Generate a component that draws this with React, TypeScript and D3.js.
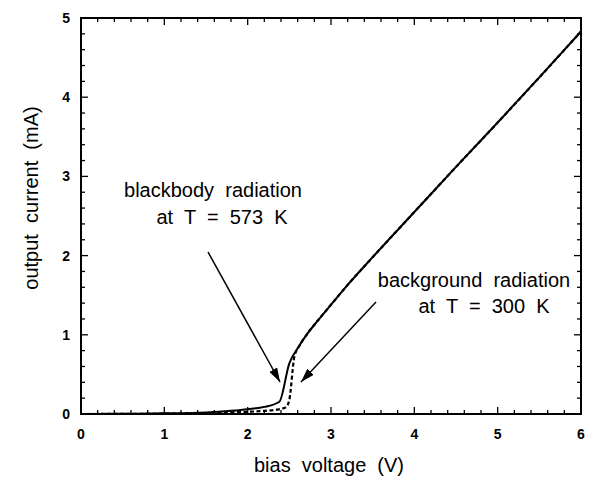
import React, { useEffect, useRef } from "react";
import * as d3 from "d3";

// blackbody radiation at T = 573 K (solid)
const blackbodyV = [0, 0.5, 1.0, 1.5, 1.8, 2.0, 2.2, 2.38, 2.5, 2.6, 2.7, 2.85, 3.0, 3.2, 3.5, 4.0, 4.5, 5.0, 5.5, 6.0];
const blackbodyI = [0, 0.003, 0.008, 0.02, 0.04, 0.06, 0.09, 0.155, 0.64, 0.83, 0.99, 1.19, 1.38, 1.63, 1.98, 2.55, 3.12, 3.68, 4.25, 4.83];

// background radiation at T = 300 K (dashed)
const backgroundV = [0, 0.5, 1.0, 1.5, 1.8, 2.0, 2.2, 2.35, 2.46, 2.5, 2.56, 2.62, 2.7, 2.85, 3.0, 3.2, 3.5, 4.0, 4.5, 5.0, 5.5, 6.0];
const backgroundI = [0, 0.001, 0.004, 0.012, 0.02, 0.028, 0.04, 0.055, 0.085, 0.18, 0.72, 0.86, 0.99, 1.19, 1.38, 1.63, 1.98, 2.55, 3.12, 3.68, 4.25, 4.83];

const xTicks = [0, 1, 2, 3, 4, 5, 6];
const yTicks = [0, 1, 2, 3, 4, 5];

const FONT = "'Liberation Sans', Arial, Helvetica, sans-serif";

const App = () => {
  const svgRef = useRef<SVGSVGElement>(null);

  useEffect(() => {
    const width = 603;
    const height = 480;
    const margin = { top: 18, right: 22, bottom: 66, left: 81 };
    const innerW = width - margin.left - margin.right;
    const innerH = height - margin.top - margin.bottom;

    const svg = d3.select(svgRef.current);
    svg.selectAll("*").remove();

    const defs = svg.append("defs");
    defs
      .append("marker")
      .attr("id", "arrowHead")
      .attr("viewBox", "0 0 14 9")
      .attr("refX", 14)
      .attr("refY", 4.5)
      .attr("markerWidth", 14)
      .attr("markerHeight", 9)
      .attr("markerUnits", "userSpaceOnUse")
      .attr("orient", "auto")
      .append("path")
      .attr("d", "M0,0 L14,4.5 L0,9 Z")
      .attr("fill", "#000");

    const g = svg.append("g").attr("transform", `translate(${margin.left}, ${margin.top})`);

    const x = d3.scaleLinear().domain([0, 6]).range([0, innerW]);
    const y = d3.scaleLinear().domain([0, 5]).range([innerH, 0]);

    // minor + major ticks, all pointing inward on four sides
    const xMinor = d3.range(0, 6.001, 0.2);
    const yMinor = d3.range(0, 5.001, 0.2);
    const isMajor = (v: number) => Math.abs(v - Math.round(v)) < 1e-6;

    const tickG = g.append("g").attr("stroke", "#000").attr("stroke-width", 1.3);
    xMinor.forEach((v) => {
      const len = isMajor(v) ? 7 : 4;
      tickG.append("line").attr("x1", x(v)).attr("x2", x(v)).attr("y1", innerH).attr("y2", innerH - len);
      tickG.append("line").attr("x1", x(v)).attr("x2", x(v)).attr("y1", 0).attr("y2", len);
    });
    yMinor.forEach((v) => {
      const len = isMajor(v) ? 7 : 4;
      tickG.append("line").attr("x1", 0).attr("x2", len).attr("y1", y(v)).attr("y2", y(v));
      tickG.append("line").attr("x1", innerW).attr("x2", innerW - len).attr("y1", y(v)).attr("y2", y(v));
    });

    g.append("rect")
      .attr("width", innerW)
      .attr("height", innerH)
      .attr("fill", "none")
      .attr("stroke", "#000")
      .attr("stroke-width", 2);

    // tick labels
    g.selectAll(".xlab")
      .data(xTicks)
      .enter()
      .append("text")
      .attr("class", "xlab")
      .attr("x", (d) => x(d))
      .attr("y", innerH + 25)
      .attr("text-anchor", "middle")
      .style("font-family", FONT)
      .style("font-size", "14px")
      .style("font-weight", "bold")
      .text((d) => d);

    g.selectAll(".ylab")
      .data(yTicks)
      .enter()
      .append("text")
      .attr("class", "ylab")
      .attr("x", -11)
      .attr("y", (d) => y(d) + 5)
      .attr("text-anchor", "end")
      .style("font-family", FONT)
      .style("font-size", "14px")
      .style("font-weight", "bold")
      .text((d) => d);

    // axis titles
    svg
      .append("text")
      .attr("x", 329)
      .attr("y", 472)
      .attr("text-anchor", "middle")
      .style("font-family", FONT)
      .style("font-size", "20px")
      .style("white-space", "pre")
      .text("bias  voltage  (V)");

    svg
      .append("text")
      .attr("transform", "translate(38, 198) rotate(-90)")
      .attr("text-anchor", "middle")
      .style("font-family", FONT)
      .style("font-size", "20px")
      .style("white-space", "pre")
      .text("output  current  (mA)");

    // curves
    const line = d3
      .line<[number, number]>()
      .x((d) => x(d[0]))
      .y((d) => y(d[1]))
      .curve(d3.curveMonotoneX);

    const solidData = blackbodyV.map((v, i) => [v, blackbodyI[i]] as [number, number]);
    const dashData = backgroundV.map((v, i) => [v, backgroundI[i]] as [number, number]);

    g.append("path")
      .datum(solidData)
      .attr("d", line)
      .attr("fill", "none")
      .attr("stroke", "#000")
      .attr("stroke-width", 2);

    g.append("path")
      .datum(dashData)
      .attr("d", line)
      .attr("fill", "none")
      .attr("stroke", "#000")
      .attr("stroke-width", 2.2)
      .attr("stroke-dasharray", "4,2.5");

    // annotations
    const annot = [
      { text: "blackbody  radiation", x: 213, y: 197 },
      { text: "at  T  =  573  K", x: 222, y: 224 },
      { text: "background  radiation", x: 474, y: 287 },
      { text: "at  T  =  300  K", x: 484, y: 313 },
    ];
    svg
      .selectAll(".annot")
      .data(annot)
      .enter()
      .append("text")
      .attr("class", "annot")
      .attr("x", (d) => d.x)
      .attr("y", (d) => d.y)
      .attr("text-anchor", "middle")
      .style("font-family", FONT)
      .style("font-size", "20px")
      .style("white-space", "pre")
      .text((d) => d.text);

    const arrows = [
      { x1: 208, y1: 252, x2: 280, y2: 382 },
      { x1: 376, y1: 302, x2: 301, y2: 382 },
    ];
    svg
      .selectAll(".arrow")
      .data(arrows)
      .enter()
      .append("line")
      .attr("class", "arrow")
      .attr("x1", (d) => d.x1)
      .attr("y1", (d) => d.y1)
      .attr("x2", (d) => d.x2)
      .attr("y2", (d) => d.y2)
      .attr("stroke", "#000")
      .attr("stroke-width", 1.5)
      .attr("marker-end", "url(#arrowHead)");
  }, []);

  return (
    <svg
      ref={svgRef}
      width={603}
      height={480}
      style={{ position: "absolute", left: 0, top: 0, background: "#fff" }}
    ></svg>
  );
};

export default App;
